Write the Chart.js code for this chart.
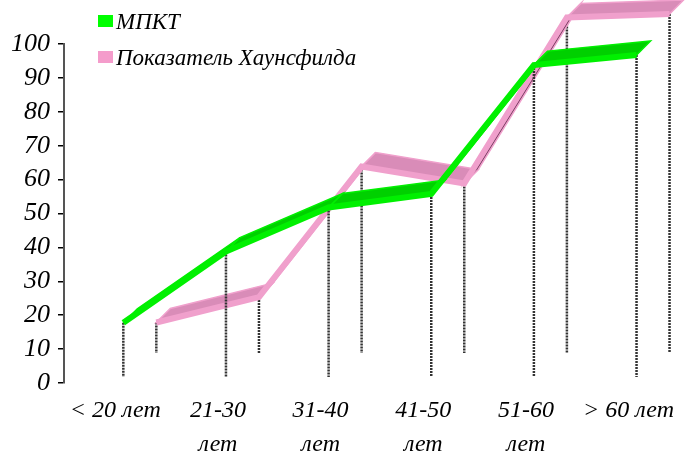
<!DOCTYPE html>
<html lang="ru">
<head>
    <meta charset="UTF-8">
    <title>МПКТ и показатель Хаунсфилда</title>
    <script src="https://cdn.jsdelivr.net/npm/chart.js"></script>
    <style>
        body { margin: 0; background: #fff; }
        .chart-box { width: 685px; height: 453px; }
    </style>
</head>
<body>
    <div class="chart-box">
        <canvas id="ageChart"></canvas>
    </div>

    <script>
    // Data
    const categories = ['< 20 лет', ['21-30', 'лет'], ['31-40', 'лет'], ['41-50', 'лет'], ['51-60', 'лет'], '> 60 лет'];
    const mpktValues = [16, 37, 50, 54, 92, 95];
    const hounsfieldValues = [9, 16.5, 55, 50, 99, 100];
    const yMin = 0, yMax = 100, yStep = 10;

    // pseudo-3D look: each series sits a bit deeper, ribbons have depth
    const ribbonDepth = [14, -14];
    const serifItalic = (size, lh) => ({ family: '"Liberation Serif", "Times New Roman", serif', style: 'italic', size: size, lineHeight: lh || 1.25 });

    const ribbon3d = {
        id: 'ribbon3d',
        beforeDatasetDraw(chart, args) {
            const ds = chart.data.datasets[args.index];
            const pts = args.meta.data;
            const ctx = chart.ctx;
            const floor = chart.scales.y.getPixelForValue(0);
            ctx.save();
            ctx.translate(ds.shift[0], ds.shift[1]);

            // drop lines
            ctx.save();
            ctx.strokeStyle = '#333';
            ctx.lineWidth = 2.5;
            ctx.setLineDash([2, 1]);
            pts.forEach(p => {
                ctx.beginPath();
                ctx.moveTo(p.x, p.y);
                ctx.lineTo(p.x, floor);
                ctx.stroke();
            });
            ctx.restore();

            // ribbon faces
            const [dx, dy] = ribbonDepth;
            for (let i = 0; i < pts.length - 1; i++) {
                const a = pts[i], b = pts[i + 1];
                const cross = (b.x - a.x) * dy - (b.y - a.y) * dx;
                ctx.beginPath();
                ctx.moveTo(a.x, a.y);
                ctx.lineTo(b.x, b.y);
                ctx.lineTo(b.x + dx, b.y + dy);
                ctx.lineTo(a.x + dx, a.y + dy);
                ctx.closePath();
                ctx.fillStyle = cross > 0 ? ds.underColor : ds.faceColor;
                ctx.fill();
                ctx.strokeStyle = ds.borderColor;
                ctx.lineWidth = 1.5;
                ctx.stroke();
            }
        },
        afterDatasetDraw(chart) {
            chart.ctx.restore();
        }
    };

    const legendTopLeft = {
        id: 'legendTopLeft',
        afterDraw(chart) {
            const ctx = chart.ctx;
            ctx.save();
            ctx.font = 'italic 23px "Liberation Serif", "Times New Roman", serif';
            ctx.textBaseline = 'alphabetic';
            chart.data.datasets.forEach((ds, i) => {
                const top = 15 + i * 36;
                ctx.fillStyle = ds.legendColor;
                ctx.fillRect(98, top, 15, 12);
                ctx.fillStyle = '#000';
                ctx.fillText(ds.label, 116, top + 14);
            });
            ctx.restore();
        }
    };

    new Chart(document.getElementById('ageChart'), {
        type: 'line',
        data: {
            labels: categories,
            datasets: [
                {
                    label: 'МПКТ',
                    data: mpktValues,
                    borderColor: '#00f000',
                    faceColor: '#00d000',
                    underColor: '#005800',
                    legendColor: '#00ff00',
                    shift: [8, -6],
                    borderWidth: 6,
                    pointRadius: 0,
                    tension: 0,
                    clip: false
                },
                {
                    label: 'Показатель Хаунсфилда',
                    data: hounsfieldValues,
                    borderColor: '#f0a0cc',
                    faceColor: '#d98cb8',
                    underColor: '#6e3558',
                    legendColor: '#f49ccb',
                    shift: [41, -30],
                    borderWidth: 6,
                    pointRadius: 0,
                    tension: 0,
                    clip: false
                }
            ]
        },
        options: {
            responsive: true,
            maintainAspectRatio: false,
            animation: false,
            layout: { padding: { top: 44, left: 0, right: 0, bottom: 0 } },
            plugins: {
                legend: { display: false },
                tooltip: { enabled: false }
            },
            scales: {
                x: {
                    offset: true,
                    grid: { display: false, drawTicks: false },
                    border: { display: false },
                    ticks: {
                        color: '#000',
                        font: serifItalic(24, 1.4),
                        padding: 11,
                        autoSkip: false,
                        maxRotation: 0,
                        minRotation: 0
                    },
                    afterFit(scale) { scale.height = 70; }
                },
                y: {
                    min: yMin,
                    max: yMax,
                    grid: {
                        drawOnChartArea: false,
                        drawTicks: true,
                        tickLength: 6,
                        color: '#000',
                        lineWidth: 1.5
                    },
                    border: { display: true, color: '#555', width: 2, dash: [1, 1] },
                    ticks: {
                        stepSize: yStep,
                        autoSkip: false,
                        color: '#000',
                        font: serifItalic(26),
                        padding: 8
                    },
                    afterFit(scale) { scale.width = 64; }
                }
            }
        },
        plugins: [ribbon3d, legendTopLeft]
    });
    </script>
</body>
</html>
